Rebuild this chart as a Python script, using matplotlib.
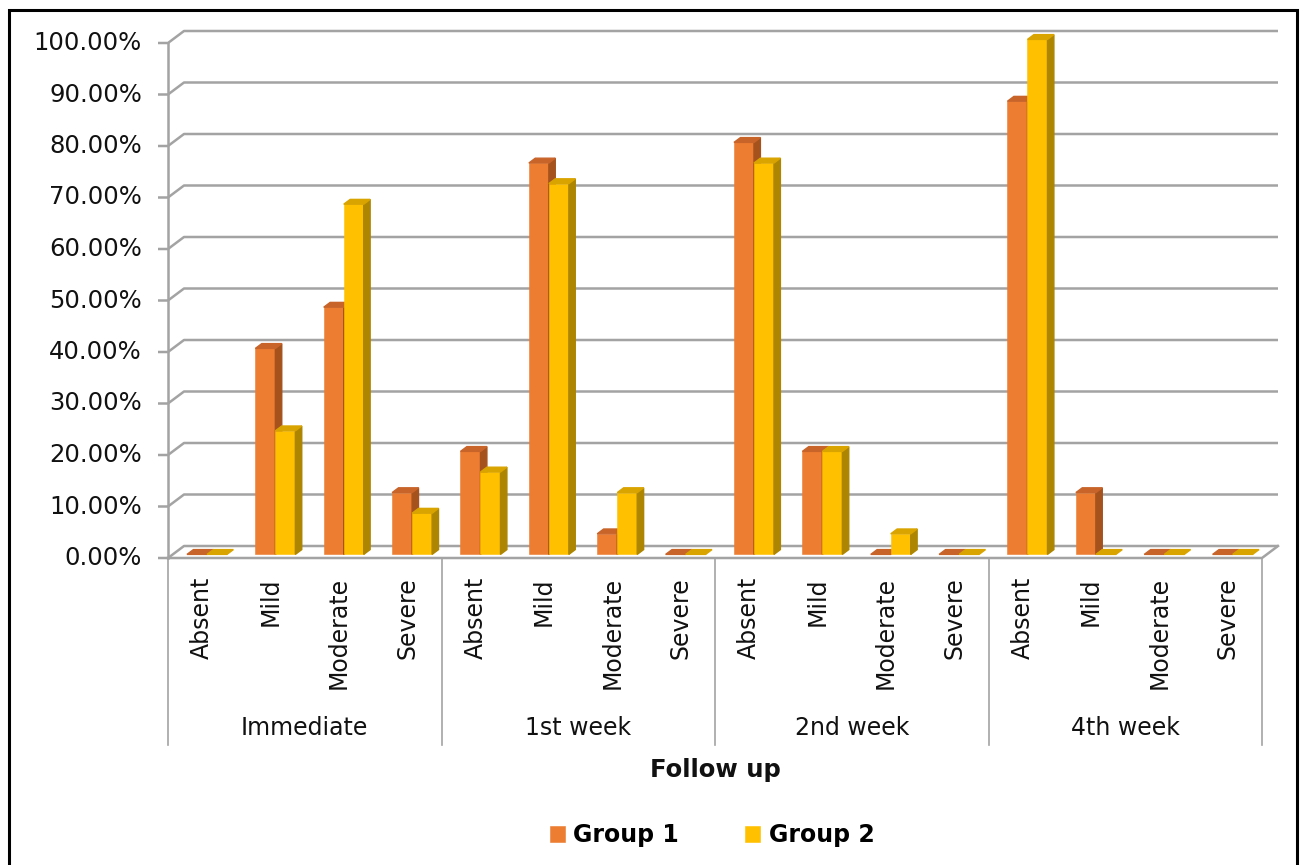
import matplotlib.pyplot as plt
from matplotlib.patches import Polygon, Rectangle
import numpy as np

follow_up = ['Immediate', '1st week', '2nd week', '4th week']
severity = ['Absent', 'Mild', 'Moderate', 'Severe']
group1 = [0, 40, 48, 12, 20, 76, 4, 0, 80, 20, 0, 0, 88, 12, 0, 0]
group2 = [0, 24, 68, 8, 16, 72, 12, 0, 76, 20, 4, 0, 100, 0, 0, 0]
y_ticks = np.arange(0, 101, 10)

plt.rcParams['font.family'] = 'DejaVu Sans'
TXT = '#111111'
GRID = '#a3a3a3'

W, H = 1303, 865
fig = plt.figure(figsize=(W / 100, H / 100), dpi=100)

# plot area in pixels: front axis x 168..1262, value 0..100 at y 558..43
X0, X1, Y0, Y1 = 168, 1262, 558, 43
ax = fig.add_axes([X0 / W, 1 - Y0 / H, (X1 - X0) / W, (Y0 - Y1) / H])
n = len(group1)
ax.set_xlim(-0.5, n - 0.5)
ax.set_ylim(0, 100)
ax.axis('off')

px = n / (X1 - X0)      # data units per pixel, x
py = 100 / (Y0 - Y1)    # data units per pixel, y
DX, DY = 16 * px, 12 * py   # depth of the 3d floor

# back wall gridlines with the slanted link to the front axis
for v in y_ticks:
    ax.plot([-0.5 - 10 * px, -0.5, -0.5 + DX, n - 0.5 + DX],
            [v, v, v + DY, v + DY], color=GRID, lw=1.8, clip_on=False,
            solid_capstyle='butt', zorder=1)
    ax.text(-0.5 - 26 * px, v, f'{v:.2f}%', ha='right', va='center',
            fontsize=17.5, color=TXT)

# floor outline
ax.plot([-0.5, n - 0.5, n - 0.5 + DX], [0, 0, DY], color=GRID, lw=1.8,
        clip_on=False, zorder=1)
ax.plot([-0.5, -0.5], [0, 100], color=GRID, lw=1.8, clip_on=False, zorder=1)

# 3d columns
w = 20 * px
f1, f2 = 0.3, 0.7
ddx, ddy = (f2 - f1) * DX, (f2 - f1) * DY
styles = [('Group 1', group1, '#ed7d31', '#a5521d', '#c8642a'),
          ('Group 2', group2, '#ffc000', '#ad8500', '#d9a400')]
x = np.arange(n)
handles = []
for g, (name, vals, front, side, top) in enumerate(styles):
    left = x - w + g * w + f1 * DX
    base = f1 * DY
    bars = ax.bar(left, vals, width=w, bottom=base, align='edge', color=front,
                  edgecolor=front, linewidth=0.4, label=name, zorder=3,
                  clip_on=False)
    handles.append(bars)
    for xl, v in zip(left, vals):
        xr = xl + w
        yt = base + v
        if v > 0:
            ax.add_patch(Polygon([(xr, base), (xr, yt), (xr + ddx, yt + ddy),
                                  (xr + ddx, base + ddy)], closed=True,
                                 color=side, zorder=3, clip_on=False))
        ax.add_patch(Polygon([(xl, yt), (xr, yt), (xr + ddx, yt + ddy),
                              (xl + ddx, yt + ddy)], closed=True,
                             color=top, zorder=3, clip_on=False))

# category labels and group dividers
for i in range(n):
    ax.text(i, -19 * py, severity[i % 4], rotation=90, ha='center', va='top',
            fontsize=17, color=TXT)
for k in range(len(follow_up) + 1):
    ax.plot([4 * k - 0.5] * 2, [0, -187 * py], color=GRID, lw=1.2,
            clip_on=False, zorder=1)
for k, name in enumerate(follow_up):
    ax.text(4 * k + 1.5, -170 * py, name, ha='center', va='center',
            fontsize=17, color=TXT)

fig.text(715 / W, 1 - 770 / H, 'Follow up', ha='center', va='center',
         fontsize=17.5, fontweight='bold', color=TXT)

fig.legend(handles=handles, loc='center', bbox_to_anchor=(712 / W, 1 - 835 / H),
           ncol=2, frameon=False, prop={'size': 17, 'weight': 'bold'},
           handlelength=0.65, handleheight=0.65, handletextpad=0.35,
           columnspacing=2.8)

# outer frame
fig.patches.append(Rectangle((9 / W, -0.05), 1288 / W, 1 - 10 / H + 0.05,
                             transform=fig.transFigure, fill=False,
                             edgecolor='black', lw=2.2))

fig.savefig('out.png', dpi=100)
